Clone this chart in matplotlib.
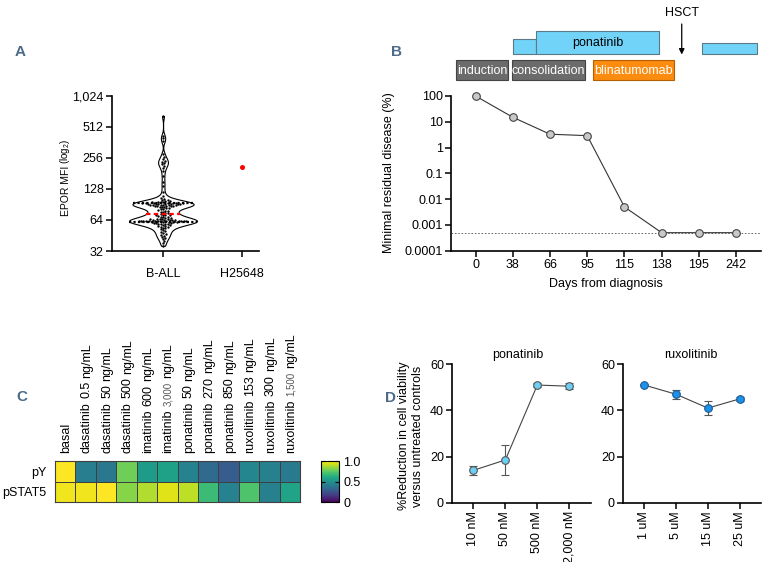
import numpy as np
import matplotlib
matplotlib.use('Agg')
import matplotlib.pyplot as plt
from matplotlib.patches import Rectangle
from matplotlib import transforms

plt.rcParams['font.family'] = ['Liberation Sans', 'DejaVu Sans']
plt.rcParams['font.size'] = 9
plt.rcParams['mathtext.default'] = 'regular'

# ---------------- data ----------------
# A: EPOR MFI of B-ALL samples and the H25648 case
epor_ball = [36, 38, 40, 42, 43, 44, 45, 46, 47, 48, 49, 50, 51, 52, 53, 54, 55, 55,
             56, 56, 57, 57, 58, 58, 59, 59, 60, 60, 60, 61, 61, 61, 61, 61,
             62, 62, 62, 62, 62, 62, 62, 63, 63, 63, 63, 63, 63, 64, 64, 64, 64, 64,
             65, 65, 65, 66, 66, 67, 67, 68, 69, 69, 70, 71, 71, 72, 72, 73,
             74, 75, 76, 77, 78, 79, 80, 81, 82, 83, 84, 85, 86, 86, 87, 87, 88, 88,
             88, 89, 89, 89, 90, 90, 90, 91, 91, 91, 92, 92, 92, 92, 93, 93,
             93, 93, 94, 94, 94, 95, 95, 96, 96, 97, 98, 99, 100, 102, 105, 110, 120,
             135, 150, 170, 190, 205, 215, 222, 228, 234, 240, 248, 260, 280, 370,
             395, 420, 650]
epor_h25648 = 207
a_groups = ['B-ALL', 'H25648']
a_ticks = [32, 64, 128, 256, 512, 1024]
a_ticklabels = ['32', '64', '128', '256', '512', '1,024']

# B: MRD course
days = ['0', '38', '66', '95', '115', '138', '195', '242']
mrd = [100, 15, 3.3, 2.9, 0.005, 0.0005, 0.0005, 0.0005]
mrd_limit = 0.0005
b_ticks = [0.0001, 0.001, 0.01, 0.1, 1, 10, 100]
b_ticklabels = ['0.0001', '0.001', '0.01', '0.1', '1', '10', '100']
# treatment timeline, in units of the day categories
tx_names = ['induction', 'consolidation', 'blinatumomab']
tx_start = [-0.52, 0.98, 3.16]
tx_end = [0.876, 2.94, 5.34]
pon_start = [0.995, 1.62, 6.08]
pon_end = [1.62, 4.94, 7.55]
pon_level = [2, 3, 1.5]
hsct_at = 5.54

# C: phospho-flow heatmap
c_drugs = ['basal', 'dasatinib', 'dasatinib', 'dasatinib', 'imatinib', 'imatinib',
           'ponatinib', 'ponatinib', 'ponatinib', 'ruxolitinib', 'ruxolitinib', 'ruxolitinib']
c_doses = ['', '0.5', '50', '500', '600', '3,000', '50', '270', '850', '153', '300', '1,500']
c_rows = ['pY', 'pSTAT5']
py_vals = [1.0, 0.42, 0.40, 0.78, 0.55, 0.57, 0.44, 0.34, 0.29, 0.46, 0.43, 0.41]
pstat5_vals = [0.98, 0.98, 1.0, 0.82, 0.88, 0.95, 0.90, 0.68, 0.44, 0.72, 0.43, 0.58]

# D: viability
conc_pon = ['10 nM', '50 nM', '500 nM', '2,000 nM']
red_pon = [14.0, 18.5, 51.0, 50.5]
err_pon = [2.0, 6.5, 0.8, 1.2]
conc_rux = ['1 uM', '5 uM', '15 uM', '25 uM']
red_rux = [51.0, 47.0, 41.0, 45.0]
err_rux = [0.6, 2.0, 3.0, 0.8]

# ---------------- figure ----------------
W, H = 768, 562
fig = plt.figure(figsize=(W / 100, H / 100), dpi=100)


def add_ax(left, top, right, bottom):
    return fig.add_axes([left / W, 1 - bottom / H, (right - left) / W, (bottom - top) / H])


def ftext(x, y, s, **kw):
    return fig.text(x / W, 1 - y / H, s, **kw)


def style_axes(ax):
    for s in ['top', 'right']:
        ax.spines[s].set_visible(False)
    for s in ['left', 'bottom']:
        ax.spines[s].set_linewidth(1.2)
    ax.tick_params(direction='out', length=4, width=1.1, labelsize=9, pad=2)


letter_kw = dict(fontsize=11, fontweight='bold', color='#4d6a88', ha='center', va='center')
ftext(20.5, 52, 'A', **letter_kw)
ftext(397, 52, 'B', **letter_kw)
ftext(22, 397, 'C', **letter_kw)
ftext(390, 398, 'D', **letter_kw)

# ---------------- A ----------------
ax = add_ax(112, 95.7, 259, 251)
style_axes(ax)
ax.set_yscale('log', base=2)
ax.set_ylim(32, 1024)
ax.set_xlim(-0.646, 1.215)
lv = np.log2(np.array(epor_ball, dtype=float))
grid = np.linspace(lv.min(), lv.max(), 400)
bw = 0.1
dens = np.exp(-0.5 * ((grid[:, None] - lv[None, :]) / bw) ** 2).sum(1)
half = dens / dens.max() * 0.43
ax.fill_betweenx(2 ** grid, -half, half, facecolor='white', edgecolor='black', lw=0.8, zorder=1)

# beeswarm in pixel space
ppx_y = 155.3 / 5.0
ppx_x = 79.0
d = 2.3
ypx = lv * ppx_y
xs = np.zeros(len(lv))
placed = []
for i in np.argsort(lv):
    best = None
    k = 0
    while best is None:
        for cand in ([0.0] if k == 0 else [k * d * 0.5, -k * d * 0.5]):
            if all((cand - px) ** 2 + (ypx[i] - py) ** 2 >= d * d for px, py in placed):
                best = cand
                break
        k += 1
    xs[i] = best
    placed.append((best, ypx[i]))

q1, med, q3 = np.percentile(lv, [25, 50, 75])
for q, col, ls in [(q1, 'black', (0, (1, 1))), (q3, 'black', (0, (1, 1))), (med, 'red', (0, (2, 1.5)))]:
    w = np.interp(q, grid, half)
    ax.plot([-w, w], [2 ** q, 2 ** q], color=col, lw=1.6, ls=ls, zorder=3)
ax.plot(xs / ppx_x, 2 ** lv, 'o', ms=1.7, color='black', mew=0, zorder=2)
ax.plot([1], [epor_h25648], 'o', ms=3.6, color='red', mew=0, zorder=2)
ax.set_yticks(a_ticks)
ax.set_yticklabels(a_ticklabels)
ax.yaxis.set_minor_locator(matplotlib.ticker.NullLocator())
ax.set_xticks([0, 1])
ax.set_xticklabels(a_groups)
ax.tick_params(axis='x', pad=8)
ftext(66, 191, 'EPOR MFI', rotation=90, ha='center', va='center', fontsize=7.5)
ftext(65.5, 151, '(log$_2$)', rotation=90, ha='center', va='center', fontsize=7)

# ---------------- B ----------------
ax = add_ax(451, 96, 761, 250.7)
style_axes(ax)
ax.set_yscale('log')
ax.set_ylim(1e-4, 100)
ax.set_xlim(-0.66, 7.67)
ax.axhline(mrd_limit, color='#555555', lw=0.6, ls=(0, (2, 2)), zorder=1)
ax.plot(range(len(days)), mrd, '-o', color='#333333', lw=0.8, ms=5.5,
        mfc='#c8c8c8', mec='#444444', mew=0.8, clip_on=False, zorder=3)
ax.set_yticks(b_ticks)
ax.set_yticklabels(b_ticklabels)
ax.yaxis.set_minor_locator(matplotlib.ticker.NullLocator())
ax.set_xticks(range(len(days)))
ax.set_xticklabels(days)
ftext(389, 173, 'Minimal residual disease (%)', rotation=90, ha='center', va='center')
ftext(606, 284, 'Days from diagnosis', ha='center', va='center')

# treatment timeline
tax = add_ax(451, 0, 761, 85)
tax.set_xlim(-0.66, 7.67)
tax.set_ylim(85, 0)
tax.axis('off')
lane_top, lane_h = 60, 20
tx_colors = ['#6b6b6b', '#6b6b6b', '#fb8c10']
tx_edges = ['#444444', '#444444', '#b35f00']
for name, s, e, fc, ec in zip(tx_names, tx_start, tx_end, tx_colors, tx_edges):
    tax.add_patch(Rectangle((s, lane_top), e - s, lane_h, facecolor=fc, edgecolor=ec, lw=0.8))
    tax.text((s + e) / 2, lane_top + lane_h / 2 + 0.5, name, color='white', ha='center', va='center', fontsize=9)
pon_base = 54.3
unit_h = 7.8
for s, e, lvl in zip(pon_start, pon_end, pon_level):
    tax.add_patch(Rectangle((s, pon_base - lvl * unit_h), e - s, lvl * unit_h,
                            facecolor='#72d3f8', edgecolor='#5a7a88', lw=0.8))
big = int(np.argmax(pon_level))
tax.text((pon_start[big] + pon_end[big]) / 2, pon_base - pon_level[big] * unit_h / 2,
         'ponatinib', ha='center', va='center', fontsize=9)
tax.annotate('', xy=(hsct_at, 54.5), xytext=(hsct_at, 24),
             arrowprops=dict(arrowstyle='-|>', color='black', lw=0.9, mutation_scale=8,
                             shrinkA=0, shrinkB=0))
tax.text(hsct_at, 12.5, 'HSCT', ha='center', va='center', fontsize=9)

# ---------------- C ----------------
ax = add_ax(55, 461, 300, 502.3)
mat = np.array([py_vals, pstat5_vals])
mesh = ax.pcolormesh(mat, cmap='viridis', vmin=0, vmax=1, edgecolors='#404040', linewidth=0.6)
ax.set_ylim(2, 0)
ax.set_xlim(0, len(c_drugs))
ax.set_xticks([])
ax.set_yticks([0.5, 1.5])
ax.set_yticklabels(c_rows)
ax.tick_params(axis='y', length=0, pad=6, labelsize=9)
for s in ax.spines.values():
    s.set_linewidth(0.8)
    s.set_color('#404040')

renderer = fig.canvas.get_renderer()
base = ax.get_xaxis_transform()
for i, (drug, dose) in enumerate(zip(c_drugs, c_doses)):
    parts = [(drug, 9, 'black')]
    if dose:
        if ',' in dose:
            parts.append((dose, 7, '#555555'))
        else:
            parts.append((dose, 9, 'black'))
        parts.append(('ng/mL', 9, 'black'))
    off = 6.0
    for txt, fs, col in parts:
        tr = transforms.offset_copy(base, fig=fig, x=3.1, y=off, units='points')
        t = ax.text(i + 0.5, 1.0, txt, transform=tr, rotation=90, rotation_mode='anchor',
                    ha='left', va='baseline', fontsize=fs, color=col)
        ext = t.get_window_extent(renderer)
        off += ext.height * 72 / fig.dpi + 2.5

cax = add_ax(320.5, 461, 339.3, 502.3)
cb = fig.colorbar(mesh, cax=cax, ticks=[0, 0.5, 1.0])
cb.ax.set_yticklabels(['0', '0.5', '1.0'])
cb.outline.set_linewidth(0.8)
cb.ax.tick_params(direction='in', length=3, width=0.8, left=True, right=True, labelsize=9, pad=3)

# ---------------- D ----------------
ftext(411, 436, '%Reduction in cell viability\nversus untreated controls', rotation=90,
      ha='center', va='center', linespacing=1.25)
panels = [
    (452.3, 590.7, conc_pon, red_pon, err_pon, '#6ccff6', '#555555', 'ponatinib', 517.7),
    (623.3, 761, conc_rux, red_rux, err_rux, '#1e90e8', '#1d5a94', 'ruxolitinib', 691),
]
for left, right, conc, vals, errs, fc, ec, title, tx in panels:
    ax = add_ax(left, 364.3, right, 502.6)
    style_axes(ax)
    ax.set_ylim(0, 60)
    ax.set_xlim(-0.66, 3.67)
    xpos = np.arange(len(conc))
    ax.plot(xpos, vals, '-', color='#444444', lw=0.8, zorder=2)
    ax.errorbar(xpos, vals, yerr=errs, fmt='none', ecolor='#555555', elinewidth=0.8,
                capsize=2.6, capthick=0.8, zorder=3)
    ax.plot(xpos, vals, 'o', ms=5.5, mfc=fc, mec=ec, mew=0.8, zorder=4, clip_on=False)
    ax.set_yticks([0, 20, 40, 60])
    ax.set_xticks(xpos)
    ax.set_xticklabels(conc, rotation=90)
    ftext(tx, 355, title, ha='center', va='center')

fig.savefig('out.png', dpi=100)
